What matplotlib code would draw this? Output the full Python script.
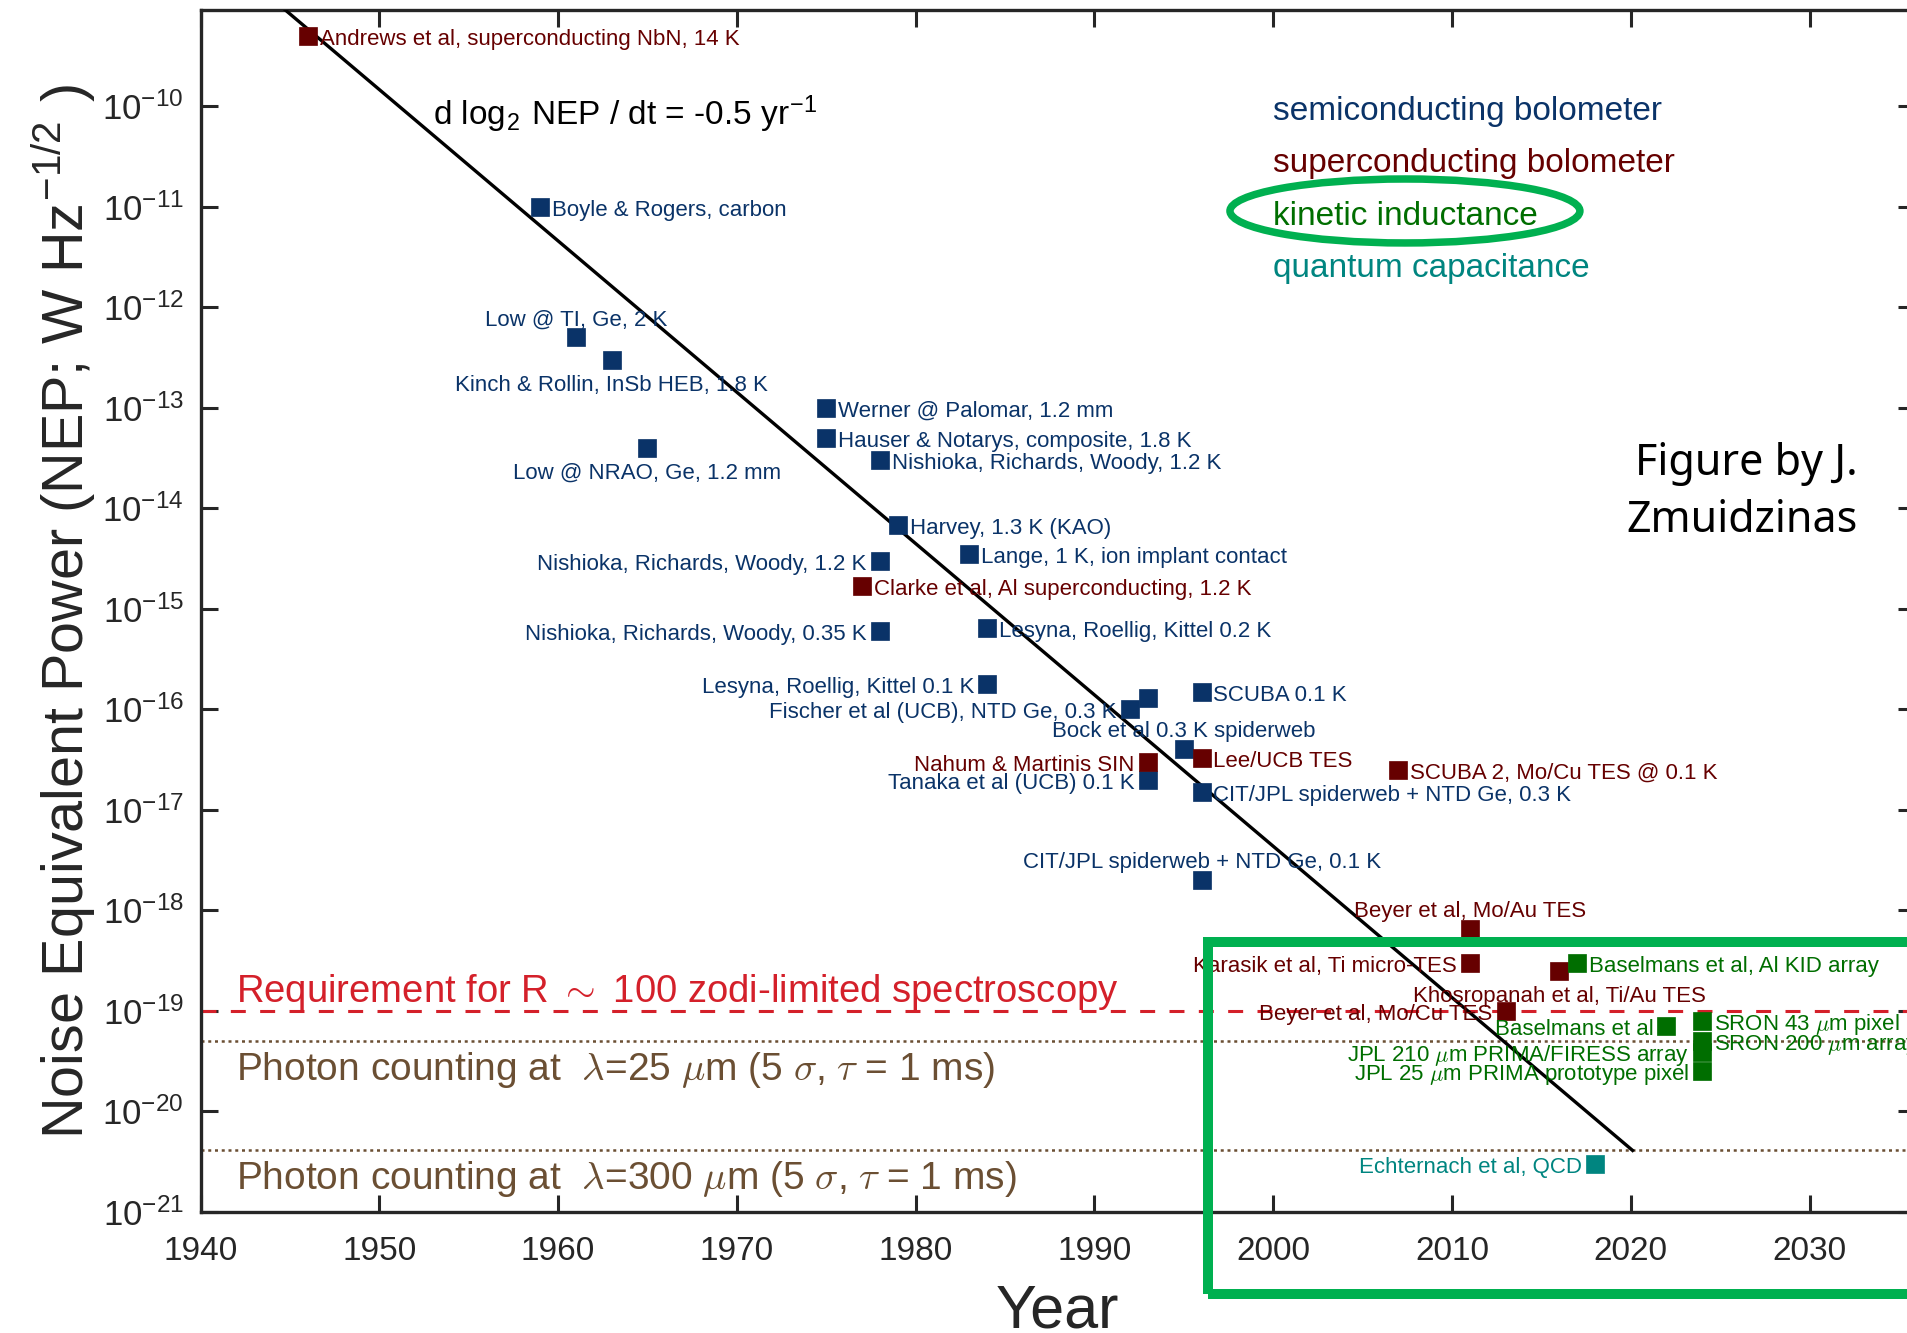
import numpy as np
import matplotlib
matplotlib.use("Agg")
import matplotlib.pyplot as plt
from matplotlib.patches import Ellipse, Rectangle
from matplotlib.ticker import FixedLocator, FixedFormatter, NullLocator

plt.rcParams['font.family'] = ['Liberation Sans', 'DejaVu Sans']
plt.rcParams['mathtext.fontset'] = 'cm'

# ---------------------------------------------------------------- data
semi_labels = [
    "Boyle & Rogers, carbon",
    "Low @ TI, Ge, 2 K",
    "Kinch & Rollin, InSb HEB, 1.8 K",
    "Low @ NRAO, Ge, 1.2 mm",
    "Werner @ Palomar, 1.2 mm",
    "Hauser & Notarys, composite, 1.8 K",
    "Nishioka, Richards, Woody, 1.2 K",
    "Harvey, 1.3 K (KAO)",
    "Nishioka, Richards, Woody, 1.2 K",
    "Lange, 1 K, ion implant contact",
    "Nishioka, Richards, Woody, 0.35 K",
    "Lesyna, Roellig, Kittel 0.2 K",
    "Lesyna, Roellig, Kittel 0.1 K",
    "Fischer et al (UCB), NTD Ge, 0.3 K",
    "",
    "Bock et al 0.3 K spiderweb",
    "SCUBA 0.1 K",
    "Tanaka et al (UCB) 0.1 K",
    "CIT/JPL spiderweb + NTD Ge, 0.3 K",
    "CIT/JPL spiderweb + NTD Ge, 0.1 K",
]
semi_years = [1959, 1961, 1963, 1965, 1975, 1975, 1978, 1979, 1978, 1983,
              1978, 1984, 1984, 1992, 1993, 1995, 1996, 1993, 1996, 1996]
semi_nep = [1e-11, 5e-13, 3e-13, 4e-14, 1e-13, 5e-14, 3e-14, 6.8e-15, 3e-15, 3.5e-15,
            6e-16, 6.5e-16, 1.8e-16, 1e-16, 1.3e-16, 4e-17, 1.5e-16, 2e-17, 1.5e-17, 2e-18]

super_labels = [
    "Andrews et al, superconducting NbN, 14 K",
    "Clarke et al, Al superconducting, 1.2 K",
    "Nahum & Martinis SIN",
    "Lee/UCB TES",
    "SCUBA 2, Mo/Cu TES @ 0.1 K",
    "Beyer et al, Mo/Au TES",
    "Karasik et al, Ti micro-TES",
    "Khosropanah et al, Ti/Au TES",
    "Beyer et al, Mo/Cu TES",
]
super_years = [1946, 1977, 1993, 1996, 2007, 2011, 2011, 2016, 2013]
super_nep = [5e-10, 1.7e-15, 3e-17, 3.3e-17, 2.5e-17, 6.5e-19, 3e-19, 2.5e-19, 1e-19]

kid_labels = [
    "Baselmans et al, Al KID array",
    "Baselmans et al",
    r"SRON 43 $\mu$m pixel",
    r"SRON 200 $\mu$m array",
    r"JPL 210 $\mu$m PRIMA/FIRESS array",
    r"JPL 25 $\mu$m PRIMA prototype pixel",
]
kid_years = [2017, 2022, 2024, 2024, 2024, 2024]
kid_nep = [3e-19, 7e-20, 8e-20, 5e-20, 3.9e-20, 2.5e-20]

qcd_labels = ["Echternach et al, QCD"]
qcd_years = [2018]
qcd_nep = [3e-21]

categories = ["semiconducting bolometer", "superconducting bolometer",
              "kinetic inductance", "quantum capacitance"]

# reference levels
zodi_requirement = 1e-19
photon_25um = 5e-20
photon_300um = 4.1e-21

# trend: NEP halves every two years
trend_rate_log2 = -0.5          # d log2 NEP / dt  [1/yr]
trend_end_year = 2020.1
trend_start_year = 1944.0

x_ticks = list(range(1940, 2031, 10))
y_exponents = list(range(-21, -9))

# ---------------------------------------------------------------- layout
# label side for each point: r = right, l = left, a = above, b = below
semi_side = ['r', 'a', 'b', 'b', 'r', 'r', 'r', 'r', 'l', 'r',
             'l', 'r', 'l', 'l', 'r', 'a', 'r', 'l', 'r', 'a']
super_side = ['r', 'r', 'l', 'r', 'r', 'a', 'l', 'b', 'l']
kid_side = ['r', 'l', 'r', 'r', 'l', 'l']
qcd_side = ['l']

c_semi = '#0a3368'
c_super = '#660000'
c_kid = '#006e00'
c_qcd = '#008580'
c_req = '#d4202a'
c_phot = '#6b4f33'
c_axis = '#262626'
c_hilite = '#00b050'

W, H = 1907, 1333
fig = plt.figure(figsize=(W / 100, H / 100), dpi=100)
ax_left, ax_right, ax_top, ax_bot = 200.5, 1915.0, 10.0, 1212.0
ax = fig.add_axes([ax_left / W, (H - ax_bot) / H,
                   (ax_right - ax_left) / W, (ax_bot - ax_top) / H])
ax.set_yscale('log')
ax.set_xlim(1940, 2035.9)
ax.set_ylim(1e-21, 10 ** -9.045)

for s in ax.spines.values():
    s.set_linewidth(2.4)
    s.set_color(c_axis)
ax.xaxis.set_major_locator(FixedLocator(x_ticks))
ax.xaxis.set_major_formatter(FixedFormatter([str(t) for t in x_ticks]))
ax.yaxis.set_major_locator(FixedLocator([10.0 ** e for e in y_exponents]))
ax.yaxis.set_major_formatter(FixedFormatter(
    [r'$\mathregular{10^{%d}}$' % e for e in y_exponents]))
ax.yaxis.set_minor_locator(NullLocator())
ax.xaxis.set_minor_locator(NullLocator())
ax.tick_params(direction='in', length=12, width=2.2, top=True, right=True,
               colors=c_axis, labelsize=24)
ax.tick_params(axis='x', pad=17)
ax.tick_params(axis='y', pad=12, labelsize=25)

ax.set_xlabel('Year', fontsize=44, color=c_axis)
ax.xaxis.set_label_coords(0.5, -0.096)
ax.xaxis.label.set_va('baseline')
ax.set_ylabel(r'Noise Equivalent Power (NEP; W Hz$^{\mathregular{-1/2}}$ )',
              fontsize=41.4, color=c_axis)
ax.yaxis.set_label_coords(-0.08, 0.5)
ax.yaxis.label.set_va('center')

# horizontal reference levels
ax.axhline(zodi_requirement, color=c_req, lw=2.2, dashes=(4.9, 4.7), zorder=2)
ax.axhline(photon_25um, color=c_phot, lw=1.8, dashes=(1.2, 1.5), zorder=2)
ax.axhline(photon_300um, color=c_phot, lw=1.8, dashes=(1.2, 1.5), zorder=2)

ax.annotate(r'Requirement for R $\sim$ 100 zodi-limited spectroscopy',
            (1942, zodi_requirement), xytext=(0, -0.5), textcoords='offset points',
            ha='left', va='bottom', fontsize=27.5, color=c_req)
ax.annotate(r'Photon counting at  $\lambda$=25 $\mu$m (5 $\sigma$, $\tau$ = 1 ms)',
            (1942, photon_25um), xytext=(0, -6.5), textcoords='offset points',
            ha='left', va='top', fontsize=28, color=c_phot)
ax.annotate(r'Photon counting at  $\lambda$=300 $\mu$m (5 $\sigma$, $\tau$ = 1 ms)',
            (1942, photon_300um), xytext=(0, -6.5), textcoords='offset points',
            ha='left', va='top', fontsize=28, color=c_phot)

# trend line
t = np.linspace(trend_start_year, trend_end_year, 200)
trend = photon_300um * 2.0 ** (trend_rate_log2 * (t - trend_end_year))
ax.plot(t, trend, color='black', lw=2.4, zorder=3)
ax.text(1953, 10 ** -10.19,
        r'd log$_{\mathregular{2}}$ NEP / dt = -0.5 yr$^{\mathregular{-1}}$',
        fontsize=24, color='black', ha='left', va='baseline')

offsets = {'r': ((8.5, -2.5), 'left', 'center'),
           'l': ((-9.5, -2.5), 'right', 'center'),
           'a': ((0, 12.5), 'center', 'center'),
           'b': ((0, -18.5), 'center', 'center')}


def draw_series(years, nep, labels, sides, color):
    ax.plot(years, nep, ls='none', marker='s', ms=13.5, mfc=color, mec=color,
            mew=0.5, zorder=4)
    for x, y, lab, side in zip(years, nep, labels, sides):
        if not lab:
            continue
        off, ha, va = offsets[side]
        ax.annotate(lab, (x, y), xytext=off, textcoords='offset points',
                    ha=ha, va=va, fontsize=16, color=color, zorder=5)


draw_series(semi_years, semi_nep, semi_labels, semi_side, c_semi)
draw_series(super_years, super_nep, super_labels, super_side, c_super)
draw_series(kid_years, kid_nep, kid_labels, kid_side, c_kid)
draw_series(qcd_years, qcd_nep, qcd_labels, qcd_side, c_qcd)

# detector-type key
key_colors = [c_semi, c_super, c_kid, c_qcd]
key_logs = [-10.14, -10.66, -11.18, -11.70]
for name, col, lg in zip(categories, key_colors, key_logs):
    ax.text(2000, 10 ** lg, name, fontsize=24, color=col, ha='left', va='baseline')

# highlight around the kinetic-inductance entry
ax.add_patch(Ellipse((0.7025, 0.8328), 0.2041, 0.0532, transform=ax.transAxes,
                     fill=False, edgecolor=c_hilite, lw=5.4, zorder=6))
# highlight box around the recent detectors
ax.add_patch(Rectangle((0.5876, -0.0682), 0.6, 0.2928, transform=ax.transAxes,
                       fill=False, edgecolor=c_hilite, lw=7.2, zorder=7,
                       clip_on=False))

ax.text(0.9668, 0.5985, 'Figure by J.\nZmuidzinas', transform=ax.transAxes,
        fontsize=31, family='Noto Sans', color='black', ha='right', va='center',
        multialignment='right', linespacing=1.37)

fig.savefig('out.png', dpi=100)
